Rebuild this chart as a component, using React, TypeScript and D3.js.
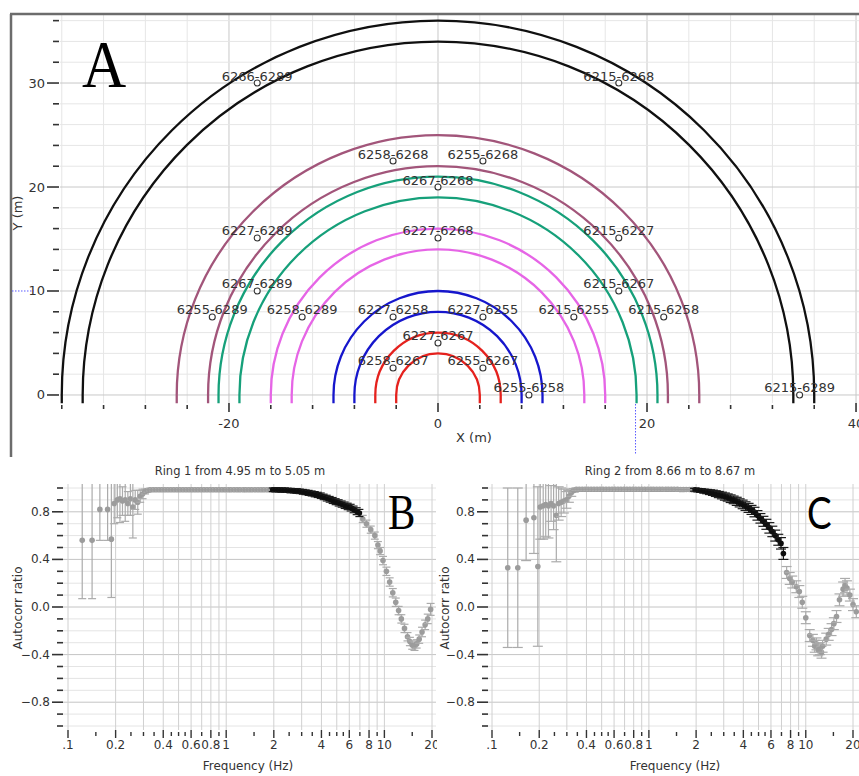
import { useEffect, useRef } from "react";
import * as d3 from "d3";

const W = 859;
const H = 776;
const UI_FONT = "'DejaVu Sans', Verdana, sans-serif";

// ---- Panel A: ring layout ----
const ringInner = [4, 8, 14, 19, 22, 34];
const ringOuter = [6, 10, 16, 21, 25, 36];
const ringColors = ["#e5211d", "#1616cc", "#e665e6", "#16a07a", "#a2557a", "#101010"];

const pairNames = [
  "6266-6289", "6215-6268", "6258-6268", "6255-6268", "6267-6268",
  "6227-6289", "6227-6268", "6215-6227", "6267-6289", "6215-6267",
  "6255-6289", "6258-6289", "6227-6258", "6227-6255", "6215-6255",
  "6215-6258", "6227-6267", "6258-6267", "6255-6267", "6255-6258",
  "6215-6289",
];
const pairX = [-17.3, 17.3, -4.3, 4.3, 0, -17.3, 0, 17.3, -17.3, 17.3, -21.6, -13, -4.3, 4.3, 13, 21.6, 0, -4.3, 4.3, 8.7, 34.6];
const pairY = [30, 30, 22.5, 22.5, 20, 15.1, 15.1, 15.1, 10, 10, 7.5, 7.5, 7.5, 7.5, 7.5, 7.5, 5, 2.6, 2.6, 0, 0];

const xTicksA = [-20, 0, 20, 40];
const yTicksA = [0, 10, 20, 30];
const cursorA = [18.9, 10];

// ---- Panels B / C: autocorrelation curves ----
const freqTicks = [0.1, 0.2, 0.4, 0.6, 0.8, 1, 2, 4, 6, 8, 10, 20];
const freqTickLabels = [".1", "0.2", "0.4", "0.6", "0.8", "1", "2", "4", "6", "8", "10", "20"];
const freqMinor = [0.15, 0.25, 0.3, 0.35, 0.45, 0.5, 0.55, 0.7, 0.9, 1.5, 2.5, 3, 3.5, 4.5, 5, 5.5, 7, 9, 15];
const freqGrid = [0.1, 0.2, 0.3, 0.4, 0.5, 0.6, 0.7, 0.8, 0.9, 1, 2, 3, 4, 5, 6, 7, 8, 9, 10, 20];
const ratioTicks = [-0.8, -0.4, 0, 0.4, 0.8];

// [frequency Hz, autocorr ratio, error]
const ring1 = [
  [0.123, 0.56, 0.49], [0.142, 0.56, 0.49], [0.159, 0.82, 0.26], [0.178, 0.82, 0.26], [0.188, 0.57, 0.49],
  [0.196, 0.87, 0.17], [0.205, 0.9, 0.15], [0.213, 0.91, 0.2], [0.221, 0.89, 0.12], [0.23, 0.9, 0.18],
  [0.239, 0.87, 0.1], [0.248, 0.91, 0.14], [0.257, 0.84, 0.26], [0.266, 0.9, 0.08], [0.276, 0.88, 0.1],
  [0.286, 0.93, 0.05], [0.296, 0.95, 0.04], [0.307, 0.97, 0.02], [0.318, 0.98, 0.015],
  [0.33, 0.985, 0.01], [0.345, 0.985, 0.01], [0.36, 0.985, 0.01], [0.376, 0.985, 0.01], [0.392, 0.985, 0.01],
  [0.41, 0.985, 0.01], [0.428, 0.985, 0.01], [0.447, 0.985, 0.01], [0.467, 0.985, 0.01], [0.488, 0.985, 0.01],
  [0.51, 0.985, 0.01], [0.533, 0.985, 0.01], [0.557, 0.985, 0.01], [0.582, 0.985, 0.01], [0.608, 0.985, 0.01],
  [0.635, 0.985, 0.01], [0.663, 0.985, 0.01], [0.693, 0.985, 0.01], [0.724, 0.985, 0.01], [0.756, 0.985, 0.01],
  [0.79, 0.985, 0.01], [0.825, 0.985, 0.01], [0.862, 0.985, 0.01], [0.9, 0.985, 0.01], [0.94, 0.985, 0.01],
  [0.982, 0.985, 0.01], [1.03, 0.985, 0.01], [1.07, 0.985, 0.01], [1.12, 0.985, 0.01], [1.17, 0.985, 0.01],
  [1.22, 0.985, 0.01], [1.28, 0.985, 0.01], [1.33, 0.985, 0.01], [1.39, 0.985, 0.01], [1.45, 0.985, 0.01],
  [1.52, 0.985, 0.01], [1.59, 0.985, 0.01], [1.66, 0.985, 0.01], [1.73, 0.985, 0.01], [1.81, 0.985, 0.01],
  [1.89, 0.985, 0.01],
  [1.97, 0.985, 0.015], [2.06, 0.985, 0.015], [2.15, 0.984, 0.016], [2.25, 0.983, 0.016], [2.35, 0.982, 0.017],
  [2.45, 0.98, 0.017], [2.56, 0.979, 0.018], [2.67, 0.977, 0.018], [2.79, 0.975, 0.019], [2.92, 0.972, 0.019],
  [3.05, 0.968, 0.02], [3.18, 0.964, 0.02], [3.32, 0.959, 0.021], [3.47, 0.954, 0.021], [3.63, 0.948, 0.022],
  [3.79, 0.942, 0.022], [3.96, 0.935, 0.023], [4.13, 0.925, 0.023], [4.32, 0.915, 0.024], [4.51, 0.905, 0.024],
  [4.71, 0.895, 0.025], [4.92, 0.885, 0.025], [5.14, 0.875, 0.026], [5.37, 0.865, 0.026], [5.61, 0.855, 0.027],
  [5.86, 0.845, 0.027], [6.12, 0.835, 0.028], [6.39, 0.82, 0.028], [6.68, 0.805, 0.029], [6.95, 0.79, 0.03],
  [7.3, 0.74, 0.03], [7.7, 0.7, 0.03], [8.2, 0.65, 0.03], [8.7, 0.6, 0.03], [9.1, 0.52, 0.03],
  [9.4, 0.47, 0.03], [9.8, 0.39, 0.035], [10.3, 0.3, 0.035], [10.8, 0.21, 0.035], [11.3, 0.12, 0.035],
  [11.8, 0.04, 0.035], [12.3, -0.03, 0.035], [12.8, -0.1, 0.035], [13.4, -0.18, 0.035], [14.0, -0.25, 0.035],
  [14.5, -0.29, 0.035], [15.0, -0.32, 0.035], [15.5, -0.33, 0.035], [16.0, -0.31, 0.035], [16.6, -0.27, 0.035],
  [17.3, -0.21, 0.04], [18.1, -0.15, 0.04], [18.8, -0.1, 0.04], [19.6, -0.02, 0.05],
];
const pickedRing1 = [1.95, 7.0];

const ring2 = [
  [0.126, 0.33, 0.67], [0.146, 0.33, 0.67], [0.165, 0.73, 0.34], [0.185, 0.75, 0.3], [0.196, 0.34, 0.67],
  [0.203, 0.84, 0.27], [0.212, 0.85, 0.28], [0.22, 0.86, 0.27], [0.229, 0.85, 0.27], [0.238, 0.87, 0.15],
  [0.247, 0.85, 0.2], [0.257, 0.77, 0.39], [0.266, 0.87, 0.14], [0.276, 0.88, 0.12], [0.287, 0.89, 0.1],
  [0.298, 0.9, 0.07], [0.309, 0.93, 0.05], [0.32, 0.96, 0.03], [0.332, 0.98, 0.015],
  [0.345, 0.99, 0.01], [0.36, 0.99, 0.01], [0.376, 0.99, 0.01], [0.392, 0.99, 0.01], [0.41, 0.99, 0.01],
  [0.428, 0.99, 0.01], [0.447, 0.99, 0.01], [0.467, 0.99, 0.01], [0.488, 0.99, 0.01], [0.51, 0.99, 0.01],
  [0.533, 0.99, 0.01], [0.557, 0.99, 0.01], [0.582, 0.99, 0.01], [0.608, 0.99, 0.01], [0.635, 0.99, 0.01],
  [0.663, 0.99, 0.01], [0.693, 0.99, 0.01], [0.724, 0.99, 0.01], [0.756, 0.99, 0.01], [0.79, 0.99, 0.01],
  [0.825, 0.99, 0.01], [0.862, 0.99, 0.01], [0.9, 0.99, 0.01], [0.94, 0.99, 0.01], [0.982, 0.99, 0.01],
  [1.03, 0.99, 0.01], [1.07, 0.99, 0.01], [1.12, 0.99, 0.01], [1.17, 0.99, 0.01], [1.22, 0.99, 0.01],
  [1.28, 0.99, 0.01], [1.33, 0.99, 0.01], [1.39, 0.99, 0.01], [1.45, 0.99, 0.01], [1.52, 0.99, 0.01],
  [1.59, 0.988, 0.01], [1.66, 0.988, 0.01], [1.73, 0.987, 0.01], [1.81, 0.987, 0.01], [1.89, 0.986, 0.01],
  [1.97, 0.985, 0.012], [2.06, 0.982, 0.012], [2.15, 0.978, 0.014], [2.25, 0.974, 0.016], [2.35, 0.97, 0.018],
  [2.45, 0.965, 0.02], [2.56, 0.96, 0.022], [2.67, 0.953, 0.024], [2.79, 0.945, 0.026], [2.92, 0.937, 0.028],
  [3.05, 0.928, 0.03], [3.18, 0.92, 0.03], [3.32, 0.91, 0.032], [3.47, 0.9, 0.032], [3.63, 0.888, 0.034],
  [3.79, 0.875, 0.034], [3.96, 0.862, 0.036], [4.13, 0.848, 0.036], [4.32, 0.833, 0.038], [4.51, 0.816, 0.038],
  [4.71, 0.798, 0.04], [4.92, 0.77, 0.04], [5.14, 0.745, 0.04], [5.37, 0.72, 0.042], [5.61, 0.695, 0.042],
  [5.86, 0.665, 0.044], [6.12, 0.635, 0.044], [6.39, 0.6, 0.046], [6.68, 0.565, 0.046], [6.95, 0.535, 0.048],
  [7.2, 0.45, 0.05],
  [7.55, 0.29, 0.05], [7.9, 0.24, 0.05], [8.2, 0.21, 0.05], [8.7, 0.17, 0.05], [9.1, 0.13, 0.05],
  [9.5, 0.04, 0.05], [10.0, -0.09, 0.05], [10.6, -0.24, 0.05], [11.1, -0.28, 0.05], [11.4, -0.33, 0.05],
  [11.7, -0.31, 0.05], [12.0, -0.36, 0.05], [12.3, -0.35, 0.05], [12.6, -0.38, 0.05], [12.8, -0.33, 0.05],
  [13.5, -0.27, 0.05], [14.0, -0.23, 0.05], [14.6, -0.19, 0.05], [15.1, -0.14, 0.05], [15.7, -0.08, 0.05],
  [16.4, 0.06, 0.05], [17.3, 0.15, 0.06], [17.8, 0.18, 0.06], [18.3, 0.16, 0.06], [19.1, 0.1, 0.05],
  [20.0, 0.02, 0.05], [21.0, -0.04, 0.05],
];
const pickedRing2 = [1.95, 7.3];

function drawLayout(svg: any) {
  const x = d3.scaleLinear().domain([-36.6, 40.6]).range([55.5, 862.3]);
  const y = d3.scaleLinear().domain([-0.8, 36.6]).range([403.3, 14.4]);
  const plotL = 60;
  const plotT = 14;
  const plotB = 403;

  const g = svg.append("g");

  // grid
  d3.range(-36, 41, 4).forEach((v) => {
    g.append("line")
      .attr("x1", x(v)).attr("x2", x(v))
      .attr("y1", plotT).attr("y2", plotB)
      .attr("stroke", v % 20 === 0 ? "#c8c8c8" : "#e6e6e6")
      .attr("stroke-width", 1);
  });
  d3.range(0, 37, 2).forEach((v) => {
    g.append("line")
      .attr("x1", plotL).attr("x2", W)
      .attr("y1", y(v)).attr("y2", y(v))
      .attr("stroke", v % 10 === 0 ? "#c8c8c8" : "#e6e6e6")
      .attr("stroke-width", 1);
  });

  // frame
  g.append("line").attr("x1", 10).attr("x2", W).attr("y1", 14).attr("y2", 14)
    .attr("stroke", "#6c6c6c").attr("stroke-width", 2.5);
  g.append("line").attr("x1", 11).attr("x2", 11).attr("y1", 14).attr("y2", 457)
    .attr("stroke", "#6c6c6c").attr("stroke-width", 2.5);

  // axes ticks
  d3.range(0, 37, 2).forEach((v) => {
    const major = yTicksA.includes(v);
    g.append("line")
      .attr("x1", major ? 47 : 53).attr("x2", 59)
      .attr("y1", y(v)).attr("y2", y(v))
      .attr("stroke", "#333").attr("stroke-width", 1.6);
  });
  yTicksA.forEach((v) => {
    g.append("text")
      .attr("x", 45).attr("y", y(v) + 4.5)
      .attr("text-anchor", "end")
      .attr("fill", "#333")
      .style("font-family", UI_FONT).style("font-size", "13px")
      .text(v);
  });
  d3.range(-36, 41, 4).forEach((v) => {
    const major = xTicksA.includes(v);
    g.append("line")
      .attr("x1", x(v)).attr("x2", x(v))
      .attr("y1", major ? 403 : 405).attr("y2", major ? 412 : 409)
      .attr("stroke", "#333").attr("stroke-width", 1.6);
  });
  xTicksA.forEach((v) => {
    g.append("text")
      .attr("x", x(v)).attr("y", 428)
      .attr("text-anchor", "middle")
      .attr("fill", "#333")
      .style("font-family", UI_FONT).style("font-size", "13px")
      .text(v);
  });
  g.append("text")
    .attr("x", 474).attr("y", 442)
    .attr("text-anchor", "middle").attr("fill", "#333")
    .style("font-family", UI_FONT).style("font-size", "13px")
    .text("X (m)");
  g.append("text")
    .attr("transform", "translate(22,213) rotate(-90)")
    .attr("text-anchor", "middle").attr("fill", "#333")
    .style("font-family", UI_FONT).style("font-size", "13px")
    .text("Y (m)");

  // cursor
  g.append("line")
    .attr("x1", 12).attr("x2", 34).attr("y1", y(cursorA[1])).attr("y2", y(cursorA[1]))
    .attr("stroke", "#5a5aff").attr("stroke-width", 1).attr("stroke-dasharray", "1.5,1.5");
  g.append("line")
    .attr("x1", x(cursorA[0])).attr("x2", x(cursorA[0])).attr("y1", 404).attr("y2", 454)
    .attr("stroke", "#5a5aff").attr("stroke-width", 1).attr("stroke-dasharray", "1.5,1.5");

  // rings
  ringColors.forEach((c, i) => {
    [ringInner[i], ringOuter[i]].forEach((r) => {
      const rx = x(r) - x(0);
      const ry = y(0) - y(r);
      const d = `M${x(r)},${y(-0.8)} L${x(r)},${y(0)} A${rx},${ry} 0 0 0 ${x(-r)},${y(0)} L${x(-r)},${y(-0.8)}`;
      g.append("path").attr("d", d).attr("fill", "none")
        .attr("stroke", c).attr("stroke-width", 2.3);
    });
  });

  // station pairs
  pairNames.forEach((name, i) => {
    g.append("text")
      .attr("x", x(pairX[i])).attr("y", y(pairY[i]) - 2.5)
      .attr("text-anchor", "middle")
      .attr("fill", "#333")
      .style("font-family", UI_FONT).style("font-size", "13px")
      .text(name);
    g.append("circle")
      .attr("cx", x(pairX[i])).attr("cy", y(pairY[i])).attr("r", 3)
      .attr("fill", "white").attr("stroke", "#333").attr("stroke-width", 1.1);
  });

  g.append("text")
    .attr("transform", "translate(82,87) scale(0.9,1)")
    .attr("fill", "#000")
    .style("font-family", "'Liberation Serif', 'DejaVu Serif', serif")
    .style("font-size", "68px")
    .text("A");
}

function drawAutocorr(svg: any, defs: any, cfg: any) {
  const { data, picked, xRange, left, right, clipRight, title, titleX, labelX, yLabelX, letter, letterX, letterFont, letterSize, letterScale, id } = cfg;
  const x = d3.scaleLog().domain([0.1, 20]).range(xRange);
  const y = d3.scaleLinear().domain([-1, 1]).range([726, 488]);
  const top = 484;
  const bottom = 730;

  defs.append("clipPath").attr("id", id + "-plot")
    .append("rect").attr("x", left).attr("y", top).attr("width", right - left).attr("height", bottom - top);
  defs.append("clipPath").attr("id", id + "-panel")
    .append("rect").attr("x", left - 70).attr("y", 458).attr("width", clipRight - left + 70).attr("height", H - 458);

  const g = svg.append("g").attr("clip-path", `url(#${id}-panel)`);
  const plot = g.append("g").attr("clip-path", `url(#${id}-plot)`);

  // grid
  y.ticks(20).forEach((v: number) => {
    const major = ratioTicks.some((t) => Math.abs(t - v) < 1e-6);
    plot.append("line")
      .attr("x1", left).attr("x2", right).attr("y1", y(v)).attr("y2", y(v))
      .attr("stroke", major ? "#c4c4c4" : "#e4e4e4").attr("stroke-width", 1);
  });
  freqGrid.forEach((f) => {
    plot.append("line")
      .attr("x1", x(f)).attr("x2", x(f)).attr("y1", top).attr("y2", bottom)
      .attr("stroke", "#d0d0d0").attr("stroke-width", 1);
  });

  // points with error bars
  const isPicked = (f: number) => f >= picked[0] && f <= picked[1];
  const layers = [data.filter((d: number[]) => !isPicked(d[0])), data.filter((d: number[]) => isPicked(d[0]))];
  layers.forEach((pts: number[][], li: number) => {
    const barColor = li === 0 ? "#ababab" : "#1a1a1a";
    const dotColor = li === 0 ? "#9c9c9c" : "#0e0e0e";
    pts.forEach(([f, v, e]) => {
      const cx = x(f);
      plot.append("line")
        .attr("x1", cx).attr("x2", cx).attr("y1", y(v - e)).attr("y2", y(v + e))
        .attr("stroke", barColor).attr("stroke-width", 1.2);
      [v - e, v + e].forEach((yy) => {
        plot.append("line")
          .attr("x1", cx - cfg.cap).attr("x2", cx + cfg.cap).attr("y1", y(yy)).attr("y2", y(yy))
          .attr("stroke", barColor).attr("stroke-width", 1.2);
      });
      plot.append("circle")
        .attr("cx", cx).attr("cy", y(v)).attr("r", 2.8)
        .attr("fill", dotColor);
    });
  });

  // y ticks
  y.ticks(20).forEach((v: number) => {
    const major = ratioTicks.some((t) => Math.abs(t - v) < 1e-6);
    g.append("line")
      .attr("x1", major ? left - 11 : left - 6).attr("x2", left)
      .attr("y1", y(v)).attr("y2", y(v))
      .attr("stroke", "#333").attr("stroke-width", 1.6);
  });
  ratioTicks.forEach((v) => {
    g.append("text")
      .attr("x", left - 13).attr("y", y(v) + 4)
      .attr("text-anchor", "end").attr("fill", "#333")
      .style("font-family", UI_FONT).style("font-size", "12px")
      .text(d3.format(".1f")(v));
  });

  // x ticks
  freqTicks.forEach((f, i) => {
    g.append("line")
      .attr("x1", x(f)).attr("x2", x(f)).attr("y1", bottom).attr("y2", bottom + 8)
      .attr("stroke", "#333").attr("stroke-width", 1.4);
    g.append("text")
      .attr("x", x(f)).attr("y", bottom + 19)
      .attr("text-anchor", "middle").attr("fill", "#333")
      .style("font-family", UI_FONT).style("font-size", "12px")
      .text(freqTickLabels[i]);
  });
  freqMinor.forEach((f) => {
    g.append("line")
      .attr("x1", x(f)).attr("x2", x(f)).attr("y1", bottom + 2).attr("y2", bottom + 6)
      .attr("stroke", "#333").attr("stroke-width", 1.4);
  });

  g.append("text")
    .attr("x", titleX).attr("y", 475)
    .attr("text-anchor", "middle").attr("fill", "#333")
    .style("font-family", UI_FONT).style("font-size", "11.5px")
    .text(title);
  g.append("text")
    .attr("x", labelX).attr("y", 770)
    .attr("text-anchor", "middle").attr("fill", "#333")
    .style("font-family", UI_FONT).style("font-size", "12px")
    .text("Frequency (Hz)");
  g.append("text")
    .attr("transform", `translate(${yLabelX},608) rotate(-90)`)
    .attr("text-anchor", "middle").attr("fill", "#333")
    .style("font-family", UI_FONT).style("font-size", "12px")
    .text("Autocorr ratio");

  g.append("text")
    .attr("transform", `translate(${letterX},529) scale(${letterScale},1)`)
    .attr("fill", "#000")
    .style("font-family", letterFont)
    .style("font-size", letterSize)
    .text(letter);
}

const App = () => {
  const svgRef = useRef<SVGSVGElement | null>(null);

  useEffect(() => {
    const svg = d3.select(svgRef.current);
    svg.selectAll("*").remove();
    svg.append("rect").attr("width", W).attr("height", H).attr("fill", "white");
    const defs = svg.append("defs");

    drawLayout(svg);

    drawAutocorr(svg, defs, {
      id: "ringB",
      data: ring1,
      picked: pickedRing1,
      xRange: [68, 432],
      left: 63,
      right: 436,
      clipRight: 437,
      cap: 4,
      title: "Ring 1 from 4.95 m to 5.05 m",
      titleX: 240,
      labelX: 248,
      yLabelX: 22,
      letter: "B",
      letterX: 388,
      letterFont: "'Liberation Serif', 'DejaVu Serif', serif",
      letterSize: "50px",
      letterScale: 0.82,
    });

    drawAutocorr(svg, defs, {
      id: "ringC",
      data: ring2,
      picked: pickedRing2,
      xRange: [492, 853],
      left: 488,
      right: W,
      clipRight: W,
      cap: 5,
      title: "Ring 2 from 8.66 m to 8.67 m",
      titleX: 670,
      labelX: 675,
      yLabelX: 449,
      letter: "C",
      letterX: 807,
      letterFont: "Lato, 'Open Sans', sans-serif",
      letterSize: "45px",
      letterScale: 0.82,
    });
  }, []);

  return (
    <div style={{ position: "absolute", left: 0, top: 0 }}>
      <svg ref={svgRef} width={W} height={H}></svg>
    </div>
  );
};

export default App;
